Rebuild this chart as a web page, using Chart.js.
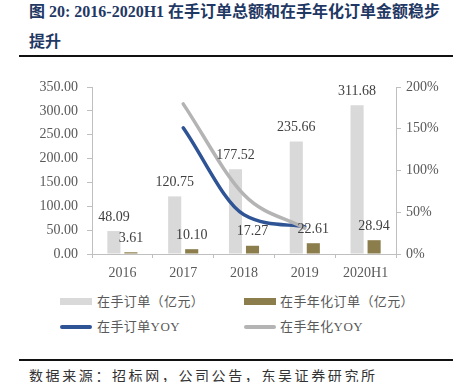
<!DOCTYPE html>
<html>
<head>
<meta charset="utf-8">
<script src="https://cdn.jsdelivr.net/npm/chart.js@4"></script>
<style>
  body { margin: 0; width: 458px; height: 382px; position: relative; background: #fff; overflow: hidden;
         font-family: "Liberation Serif", "Noto Sans CJK SC", serif; }
  .title { position: absolute; left: 29px; top: -3px; font-size: 16px; line-height: 30px; font-weight: bold; color: #1f3864; white-space: nowrap; }
  .rule { position: absolute; left: 19px; width: 434px; height: 2px; background: #111; }
  #wrap { position: absolute; left: 0; top: 60px; width: 458px; height: 225px; }
  .leg { position: absolute; font-size: 13px; color: #595959; white-space: nowrap; line-height: 16px; letter-spacing: 0.4px; }
  .sw { position: absolute; width: 32px; }
  .src { position: absolute; left: 29px; top: 368px; font-size: 14px; line-height: 18px; color: #333; letter-spacing: 2.6px; white-space: nowrap; }
</style>
</head>
<body>
<div class="title">图 20: 2016-2020H1 在手订单总额和在手年化订单金额稳步<br>提升</div>
<div class="rule" style="top:55px"></div>
<div id="wrap"><canvas id="c" width="458" height="225"></canvas></div>

<div class="sw" style="left:60px;top:298px;height:7px;background:#d9d9d9"></div>
<div class="leg" style="left:97px;top:294px">在手订单（亿元）</div>
<div class="sw" style="left:244px;top:298px;height:7px;background:#8c7e4c"></div>
<div class="leg" style="left:280px;top:294px">在手年化订单（亿元）</div>
<div class="sw" style="left:60px;top:325px;height:4px;border-radius:2px;background:#2f5496"></div>
<div class="leg" style="left:97px;top:319px">在手订单YOY</div>
<div class="sw" style="left:244px;top:325px;height:4px;border-radius:2px;background:#b4b4b4"></div>
<div class="leg" style="left:280px;top:319px">在手年化YOY</div>

<div class="rule" style="top:359px"></div>
<div class="src">数据来源：招标网，公司公告，东吴证券研究所</div>

<script>
const categories = ['2016', '2017', '2018', '2019', '2020H1'];
const orders = [48.09, 120.75, 177.52, 235.66, 311.68];
const annualOrders = [3.61, 10.10, 17.27, 22.61, 28.94];
const ordersYoy = [null, 1.511, 0.470, 0.328, null];
const annualYoy = [null, 1.798, 0.710, 0.309, null];

const axisColor = '#bfbfbf';
const tickFont = { family: 'Liberation Serif', size: 14 };

// value labels above bars
const barLabels = {
  id: 'barLabels',
  afterDatasetsDraw(chart) {
    const ctx = chart.ctx;
    ctx.save();
    ctx.font = '14px "Liberation Serif"';
    ctx.textAlign = 'center';
    ctx.textBaseline = 'middle';
    ctx.fillStyle = '#404040';
    chart.data.datasets.forEach((ds, i) => {
      if (ds.type !== 'bar') return;
      chart.getDatasetMeta(i).data.forEach((bar, j) => {
        ctx.fillText(ds.data[j].toFixed(2), bar.x, bar.y - 14);
      });
    });
    ctx.restore();
  }
};

new Chart(document.getElementById('c'), {
  type: 'bar',
  data: {
    labels: categories,
    datasets: [
      { type: 'bar', label: '在手订单（亿元）', data: orders, backgroundColor: '#d9d9d9',
        categoryPercentage: 0.56, barPercentage: 0.77, order: 2 },
      { type: 'bar', label: '在手年化订单（亿元）', data: annualOrders, backgroundColor: '#8c7e4c',
        categoryPercentage: 0.56, barPercentage: 0.77, order: 2 },
      { type: 'line', label: '在手订单YOY', data: ordersYoy, yAxisID: 'y1', borderColor: '#2f5496',
        borderWidth: 3.5, pointRadius: 0, cubicInterpolationMode: 'monotone', borderCapStyle: 'round', order: 1 },
      { type: 'line', label: '在手年化YOY', data: annualYoy, yAxisID: 'y1', borderColor: '#b4b4b4',
        borderWidth: 3.5, pointRadius: 0, cubicInterpolationMode: 'monotone', borderCapStyle: 'round', order: 0 }
    ]
  },
  options: {
    responsive: false,
    animation: false,
    layout: { padding: { top: 27, left: 0, right: 0, bottom: 0 } },
    plugins: { legend: { display: false }, tooltip: { enabled: false } },
    scales: {
      x: {
        grid: { drawOnChartArea: false, tickLength: 4, color: axisColor, offset: true },
        border: { color: axisColor },
        ticks: { font: tickFont, color: '#595959', padding: 7 },
        afterFit: s => { s.height = 31; }
      },
      y: {
        position: 'left', min: 0, max: 350,
        grid: { drawOnChartArea: false, tickLength: 5, color: axisColor },
        border: { color: axisColor },
        ticks: { stepSize: 50, font: tickFont, color: '#595959', padding: 9, callback: v => v.toFixed(2) },
        afterFit: s => { s.width = 92; }
      },
      y1: {
        position: 'right', min: 0, max: 2,
        grid: { drawOnChartArea: false, tickLength: 5, color: axisColor },
        border: { color: axisColor },
        ticks: { stepSize: 0.5, font: tickFont, color: '#595959', padding: 5, callback: v => Math.round(v * 100) + '%' },
        afterFit: s => { s.width = 62; }
      }
    }
  },
  plugins: [barLabels]
});
</script>
</body>
</html>
